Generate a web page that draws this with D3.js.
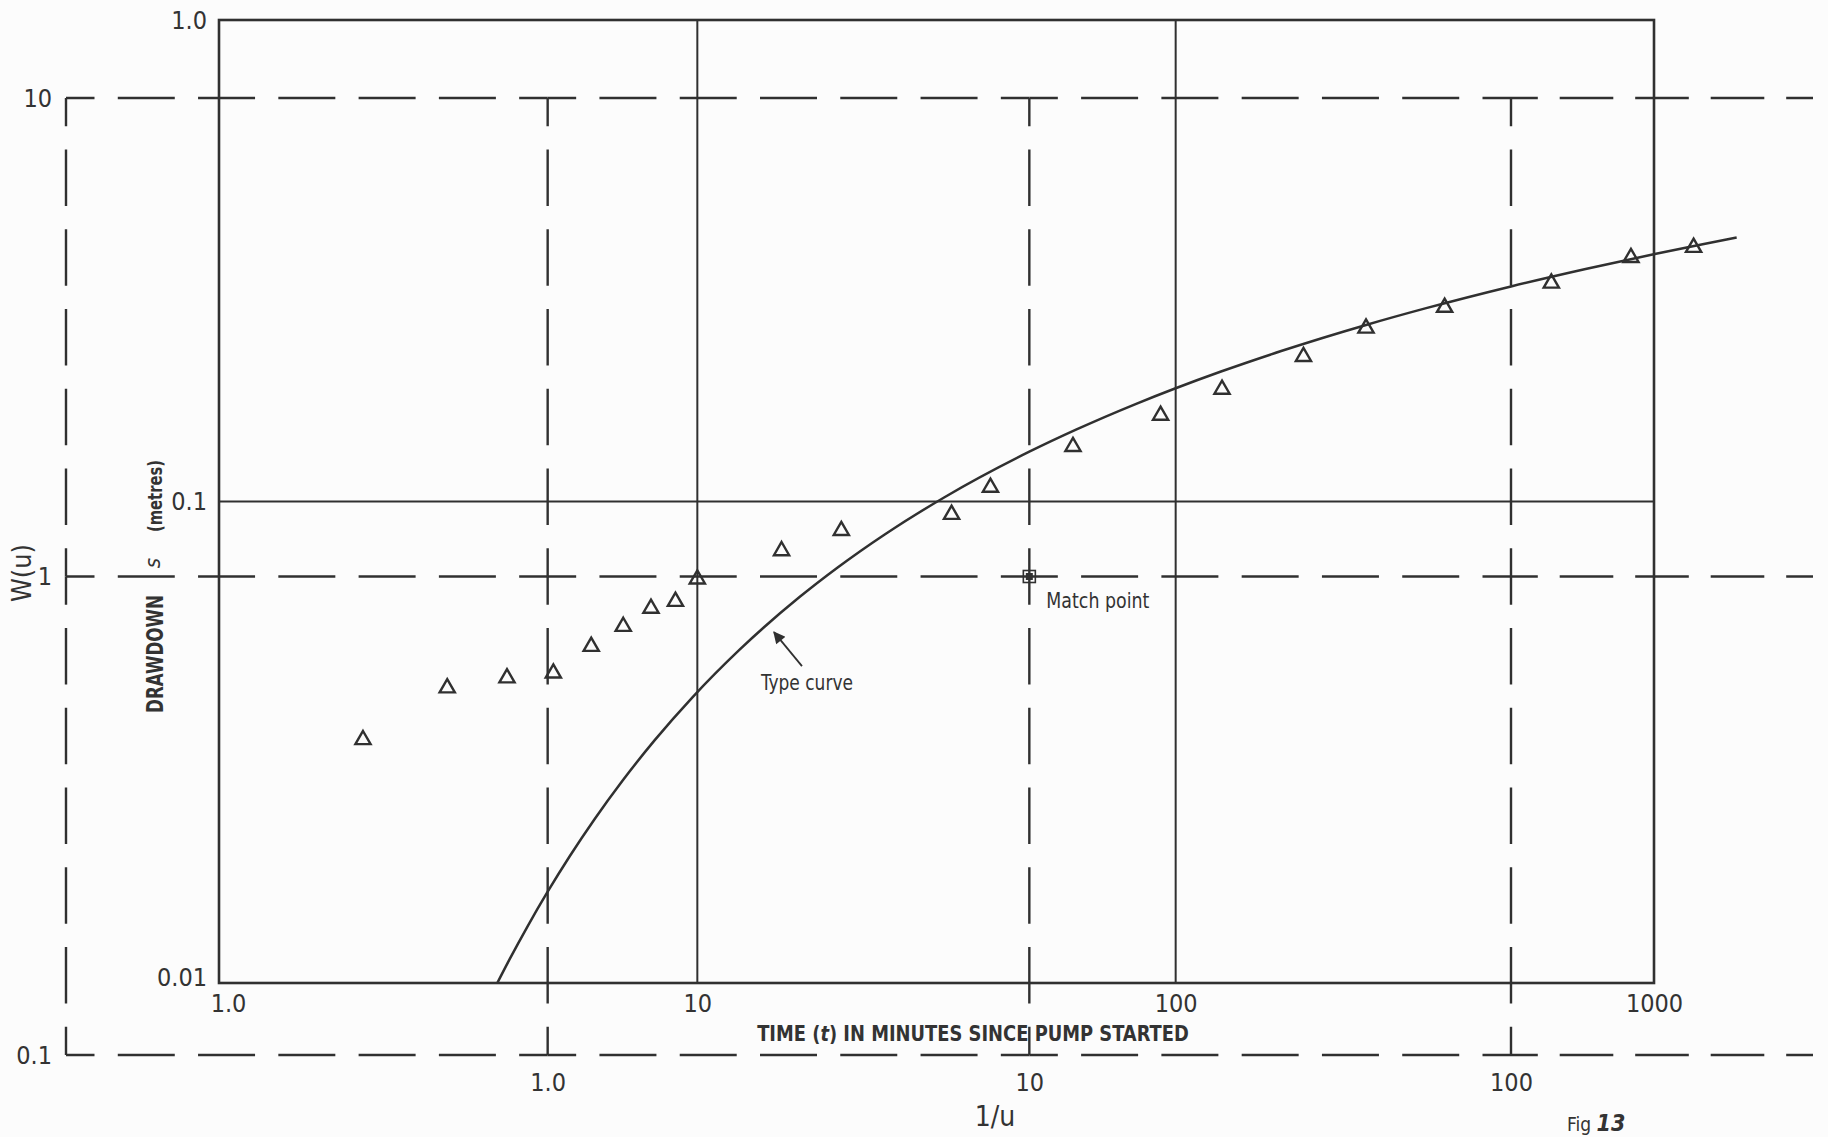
<!DOCTYPE html>
<html>
<head>
<meta charset="utf-8">
<script src="https://cdn.jsdelivr.net/npm/d3@7"></script>
<style>
  html, body { margin: 0; padding: 0; background: #fcfcfc; }
  svg { display: block; }
  text { font-family: "Liberation Sans Narrow", "DejaVu Sans Condensed", "Roboto", sans-serif; fill: #333; }
</style>
</head>
<body>
<svg id="chart" width="1828" height="1137"></svg>
<script>
(function () {
  'use strict';

  // Observed drawdown (triangles): time since pump started (min) and drawdown (m)
  const timeMin = [2, 3, 4, 5, 6, 7, 8, 9, 10, 15, 20, 34, 41, 61, 93, 125, 185, 250, 365, 610, 895, 1210];
  const drawdownM = [0.032, 0.041, 0.043, 0.044, 0.050, 0.055, 0.060, 0.062, 0.069, 0.079, 0.087, 0.094,
    0.107, 0.130, 0.151, 0.171, 0.200, 0.229, 0.253, 0.284, 0.321, 0.337];

  // Theis type curve, tabulated u and W(u)
  const typeU = [1.3, 1.2, 1.1, 1.0, 0.9, 0.8, 0.7, 0.6, 0.5, 0.4, 0.3, 0.25, 0.2, 0.15, 0.1, 0.08, 0.06,
    0.05, 0.04, 0.03, 0.02, 0.015, 0.01, 0.007, 0.005, 0.004, 0.0034];
  const typeW = [0.1355, 0.1584, 0.1860, 0.2194, 0.2602, 0.3106, 0.3738, 0.4544, 0.5598, 0.7024, 0.9057,
    1.0443, 1.2227, 1.4645, 1.8229, 2.0269, 2.2953, 2.4679, 2.6813, 2.9591, 3.3547, 3.6374, 4.0379,
    4.3916, 4.7261, 4.9482, 5.1100];

  // Tick values / labels
  const timeTicks = [1, 10, 100, 1000];
  const timeTickLabels = ['1.0', '10', '100', '1000'];
  const drawTicks = [0.01, 0.1, 1];
  const drawTickLabels = ['0.01', '0.1', '1.0'];
  const invUTicks = [1, 10, 100];
  const invUTickLabels = ['1.0', '10', '100'];
  const wTicks = [0.1, 1, 10];
  const wTickLabels = ['0.1', '1', '10'];

  // Match point (same spot in both coordinate systems)
  const matchPoint = { invU: 10, w: 1 };
  // Where the "Type curve" arrow points, in type-curve coordinates
  const typeNote = { invU: 2.95, w: 0.765 };

  const ink = '#303030';
  const font = '"Liberation Sans Narrow", "DejaVu Sans Condensed", "Roboto", sans-serif';
  const svg = d3.select('#chart');

  // Solid sheet: field data
  const x = d3.scaleLog().domain([1, 1000]).range([219, 1654]);
  const y = d3.scaleLog().domain([0.01, 1]).range([983, 20]);
  // Dashed sheet: type curve
  const xu = d3.scaleLog().domain([0.1, 100]).range([66, 1511]);
  const yw = d3.scaleLog().domain([0.1, 10]).range([1055, 98]);
  const dashEnd = 1813;

  svg.append('rect').attr('width', 1828).attr('height', 1137).attr('fill', '#fcfcfc');

  // ---- dashed type-curve grid (dash centred on every crossing) ----
  const dashed = svg.append('g').attr('stroke', ink).attr('stroke-width', 2.4).attr('fill', 'none');

  function dashedSegment(x1, y1, x2, y2) {
    const len = Math.hypot(x2 - x1, y2 - y1);
    const n = Math.max(1, Math.round(len / 77));
    const p = len / n;
    const dash = p * 0.71;
    dashed.append('line')
      .attr('x1', x1).attr('y1', y1).attr('x2', x2).attr('y2', y2)
      .attr('stroke-dasharray', `${dash} ${p - dash}`)
      .attr('stroke-dashoffset', dash / 2);
  }

  const xBreaks = [xu(0.1)].concat(invUTicks.map(xu), [dashEnd]);
  wTicks.forEach(w => {
    for (let i = 0; i < xBreaks.length - 1; i++) dashedSegment(xBreaks[i], yw(w), xBreaks[i + 1], yw(w));
  });
  const yBreaks = wTicks.map(yw).sort((a, b) => a - b);
  [0.1].concat(invUTicks).forEach(v => {
    for (let i = 0; i < yBreaks.length - 1; i++) dashedSegment(xu(v), yBreaks[i], xu(v), yBreaks[i + 1]);
  });

  // ---- solid field-data sheet ----
  const solid = svg.append('g').attr('stroke', ink).attr('fill', 'none');
  solid.append('rect')
    .attr('x', x(1)).attr('y', y(1))
    .attr('width', x(1000) - x(1)).attr('height', y(0.01) - y(1))
    .attr('stroke-width', 2.6);
  solid.selectAll('.vgrid').data([10, 100]).enter().append('line')
    .attr('x1', d => x(d)).attr('x2', d => x(d))
    .attr('y1', y(1)).attr('y2', y(0.01))
    .attr('stroke-width', 2);
  solid.selectAll('.hgrid').data([0.1]).enter().append('line')
    .attr('x1', x(1)).attr('x2', x(1000))
    .attr('y1', d => y(d)).attr('y2', d => y(d))
    .attr('stroke-width', 2);

  // ---- axes (labels only) ----
  function styleAxis(g, size) {
    g.select('.domain').remove();
    g.selectAll('.tick line').remove();
    g.selectAll('.tick text')
      .attr('fill', '#333')
      .attr('font-size', size + 'px')
      .style('font-family', font);
  }

  svg.append('g').attr('transform', `translate(0,${y(0.01)})`)
    .call(d3.axisBottom(x).tickValues(timeTicks).tickFormat((d, i) => timeTickLabels[i]).tickSize(0).tickPadding(11))
    .call(g => styleAxis(g, 25))
    .call(g => g.selectAll('.tick text').filter(d => d === 1).attr('dx', 9));
  svg.append('g').attr('transform', `translate(${x(1)},0)`)
    .call(d3.axisLeft(y).tickValues(drawTicks).tickFormat((d, i) => drawTickLabels[i]).tickSize(0).tickPadding(12))
    .call(g => styleAxis(g, 25))
    .call(g => g.selectAll('.tick text').filter(d => d === 0.01).attr('dy', '0.08em'));
  svg.append('g').attr('transform', `translate(0,${yw(0.1)})`)
    .call(d3.axisBottom(xu).tickValues(invUTicks).tickFormat((d, i) => invUTickLabels[i]).tickSize(0).tickPadding(18))
    .call(g => styleAxis(g, 25));
  svg.append('g').attr('transform', `translate(${xu(0.1)},0)`)
    .call(d3.axisLeft(yw).tickValues(wTicks).tickFormat((d, i) => wTickLabels[i]).tickSize(0).tickPadding(14))
    .call(g => styleAxis(g, 25));

  // ---- type curve ----
  svg.append('clipPath').attr('id', 'clipBottom')
    .append('rect').attr('x', 0).attr('y', 0).attr('width', 1828).attr('height', y(0.01));

  const curvePts = typeU.map((u, i) => ({ invU: 1 / u, w: typeW[i] }));
  const line = d3.line()
    .x(d => xu(d.invU))
    .y(d => yw(d.w))
    .curve(d3.curveMonotoneX);

  svg.append('path')
    .datum(curvePts)
    .attr('clip-path', 'url(#clipBottom)')
    .attr('d', line)
    .attr('fill', 'none')
    .attr('stroke', ink)
    .attr('stroke-width', 2.5);

  // ---- observed points ----
  const tri = d3.symbol().type(d3.symbolTriangle).size(100);
  svg.append('g').selectAll('path')
    .data(timeMin.map((t, i) => ({ t, s: drawdownM[i] })))
    .enter().append('path')
    .attr('transform', d => `translate(${x(d.t)},${y(d.s)})`)
    .attr('d', tri)
    .attr('fill', 'none')
    .attr('stroke', ink)
    .attr('stroke-width', 2.4);

  // ---- match point ----
  const mx = xu(matchPoint.invU), my = yw(matchPoint.w);
  svg.append('rect')
    .attr('x', mx - 6).attr('y', my - 6).attr('width', 12).attr('height', 12)
    .attr('fill', 'none').attr('stroke', ink).attr('stroke-width', 1.6);
  svg.append('rect')
    .attr('x', mx - 3.5).attr('y', my - 3.5).attr('width', 7).attr('height', 7)
    .attr('fill', ink);
  svg.append('text')
    .attr('x', mx + 17).attr('y', my + 31)
    .attr('font-size', 22)
    .attr('textLength', 103).attr('lengthAdjust', 'spacingAndGlyphs')
    .text('Match point');

  // ---- type curve annotation ----
  svg.append('defs').append('marker')
    .attr('id', 'arrow').attr('viewBox', '0 0 10 10')
    .attr('refX', 9).attr('refY', 5)
    .attr('markerWidth', 16).attr('markerHeight', 12)
    .attr('markerUnits', 'userSpaceOnUse')
    .attr('orient', 'auto')
    .append('path').attr('d', 'M0,0 L10,5 L0,10 z').attr('fill', ink);
  const nx = xu(typeNote.invU), ny = yw(typeNote.w);
  svg.append('line')
    .attr('x1', nx + 28).attr('y1', ny + 34).attr('x2', nx).attr('y2', ny)
    .attr('stroke', ink).attr('stroke-width', 1.8)
    .attr('marker-end', 'url(#arrow)');
  svg.append('text')
    .attr('x', nx - 13).attr('y', ny + 58)
    .attr('font-size', 22)
    .attr('textLength', 92).attr('lengthAdjust', 'spacingAndGlyphs')
    .text('Type curve');

  // ---- axis titles ----
  // time title: squeeze horizontally to the reference width, keeping tspans together
  const timeTitle = svg.append('text')
    .attr('text-anchor', 'middle')
    .attr('font-size', 22).attr('font-weight', 'bold');
  timeTitle.append('tspan').text('TIME (');
  timeTitle.append('tspan').attr('font-style', 'italic').text('t');
  timeTitle.append('tspan').text(') IN MINUTES SINCE PUMP STARTED');
  const titleW = timeTitle.node().getComputedTextLength() || 432;
  timeTitle.attr('transform', `translate(973,1041) scale(${432 / titleW},1)`);

  svg.append('text')
    .attr('x', 995).attr('y', 1116).attr('dy', '0.35em')
    .attr('text-anchor', 'middle')
    .attr('font-size', 28)
    .text('1/u');

  svg.append('text')
    .attr('transform', 'translate(22,573) rotate(-90)')
    .attr('dy', '0.35em')
    .attr('text-anchor', 'middle')
    .attr('font-size', 27)
    .attr('textLength', 58).attr('lengthAdjust', 'spacingAndGlyphs')
    .text('W(u)');

  svg.append('text')
    .attr('transform', 'translate(155,654) rotate(-90)')
    .attr('dy', '0.35em')
    .attr('text-anchor', 'middle')
    .attr('font-size', 23).attr('font-weight', 'bold')
    .attr('textLength', 118).attr('lengthAdjust', 'spacingAndGlyphs')
    .text('DRAWDOWN');
  svg.append('text')
    .attr('transform', 'translate(153,563) rotate(-90)')
    .attr('dy', '0.3em')
    .attr('text-anchor', 'middle')
    .attr('font-size', 22).attr('font-style', 'italic')
    .text('s');
  svg.append('text')
    .attr('transform', 'translate(155,496) rotate(-90)')
    .attr('dy', '0.35em')
    .attr('text-anchor', 'middle')
    .attr('font-size', 20).attr('font-weight', 'bold')
    .attr('textLength', 72).attr('lengthAdjust', 'spacingAndGlyphs')
    .text('(metres)');

  // ---- figure number at the bottom edge ----
  const fig = svg.append('text').attr('x', 1567).attr('y', 1131).attr('font-size', 19);
  fig.append('tspan').text('Fig ');
  fig.append('tspan').attr('font-weight', 'bold').attr('font-style', 'italic').attr('font-size', 23).text('13');
})();
</script>
</body>
</html>
